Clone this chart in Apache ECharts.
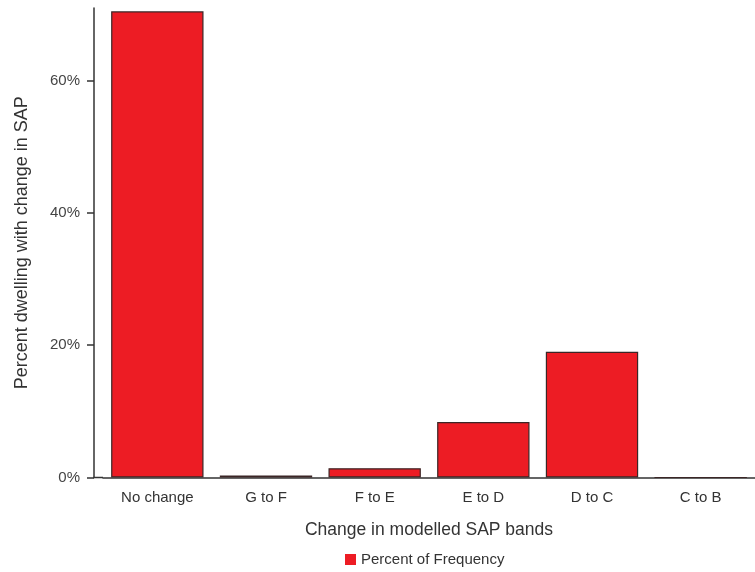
<!DOCTYPE html>
<html><head><meta charset="utf-8">
<script src="https://cdn.jsdelivr.net/npm/echarts@6/dist/echarts.min.js"></script>
<style>html,body{margin:0;padding:0;background:#fff}#c{width:755px;height:572px}</style>
</head><body><div id="c"></div>
<script>
var categories = ["No change", "G to F", "F to E", "E to D", "D to C", "C to B"];
var percentValues = [70.5, 0.3, 1.4, 8.4, 19.0, 0];
var yTicks = [0, 20, 40, 60];
var seriesName = "Percent of Frequency";

var chart = echarts.init(document.getElementById('c'));
var font = 'Liberation Sans, Arial, sans-serif';
chart.setOption({
  animation: false,
  textStyle: {fontFamily: font},
  grid: {left: 103, right: 0, top: 8, bottom: 94.5},
  legend: {
    data: [seriesName], bottom: 0, left: 340, itemWidth: 11, itemHeight: 11, itemGap: 8,
    textStyle: {fontSize: 15, color: '#333', fontFamily: font},
    itemStyle: {borderWidth: 0},
    icon: 'rect'
  },
  xAxis: {
    type: 'category', data: categories,
    name: 'Change in modelled SAP bands', nameLocation: 'middle', nameGap: 44,
    nameTextStyle: {fontSize: 17.5, color: '#333', fontFamily: font},
    axisLine: {lineStyle: {color: '#333', width: 1.5}},
    axisTick: {alignWithLabel: true, length: 8, lineStyle: {color: '#333', width: 1.5}},
    axisLabel: {fontSize: 15, color: '#333', margin: 13, fontFamily: font}
  },
  yAxis: {
    type: 'value', min: 0, max: 71, interval: 20, offset: 9,
    name: 'Percent dwelling with change in SAP', nameLocation: 'middle', nameGap: 63,
    nameTextStyle: {fontSize: 18, color: '#333', fontFamily: font},
    axisLine: {show: true, lineStyle: {color: '#333', width: 1.5}},
    axisTick: {show: true, length: 7, customValues: yTicks, lineStyle: {color: '#333', width: 1.5}},
    axisLabel: {fontSize: 15, color: '#444', margin: 14, fontFamily: font, customValues: yTicks,
      formatter: function (v) { return v + '%'; }},
    splitLine: {show: false}
  },
  series: [{
    name: seriesName, type: 'bar', data: percentValues, barCategoryGap: '15%',
    itemStyle: {color: '#ED1C24', borderColor: '#3b2626', borderWidth: 1.2}
  }]
});
// extend x-axis line to the offset y-axis
var p0 = chart.convertToPixel({gridIndex: 0}, [0, 0]);
var gridLeft = 103;
chart.setOption({graphic: [{type: 'line', shape: {x1: gridLeft - 9.75, y1: p0[1], x2: gridLeft, y2: p0[1]},
  style: {stroke: '#333', lineWidth: 1.5}, z: 100}]});
</script></body></html>
